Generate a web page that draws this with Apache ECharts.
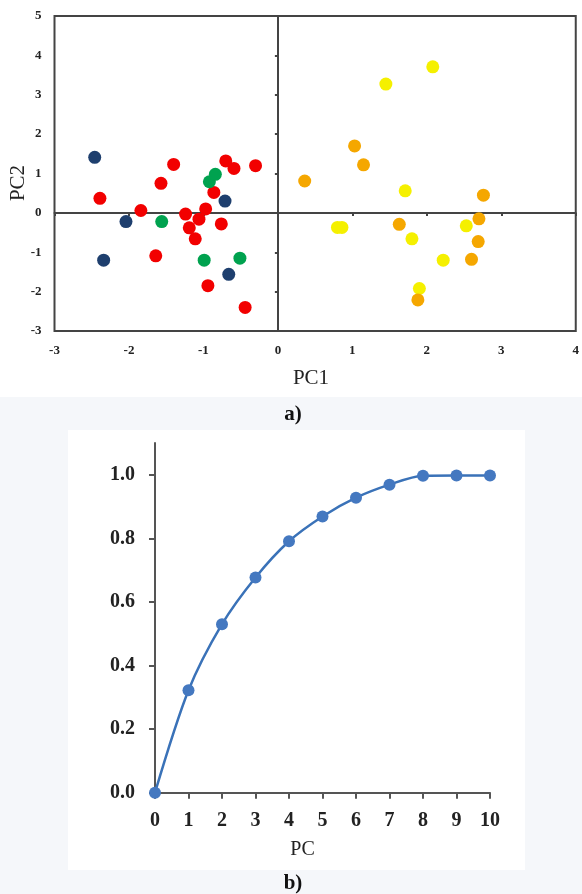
<!DOCTYPE html>
<html>
<head>
<meta charset="utf-8">
<script src="https://cdn.jsdelivr.net/npm/echarts@6/dist/echarts.min.js"></script>
<style>
html,body{margin:0;padding:0;background:#fff;}
#wrap{position:relative;width:582px;height:894px;overflow:hidden;}
#gray{position:absolute;left:0;top:397px;width:582px;height:497px;background:#F5F7FA;}
#panel{position:absolute;left:68px;top:430px;width:457px;height:440px;background:#fff;}
#chart{position:absolute;left:0;top:0;width:582px;height:894px;}
</style>
</head>
<body>
<div id="wrap"><div id="gray"></div><div id="panel"></div><div id="chart"></div></div>
<script>
// Score plot (PC1, PC2) groups
const blueGroup = [[-2.46,1.41],[-2.04,-0.22],[-2.34,-1.20],[-0.71,0.30],[-0.66,-1.56]];
const redGroup = [[-2.39,0.37],[-1.40,1.23],[-1.57,0.75],[-1.84,0.06],[-1.64,-1.09],[-1.24,-0.03],
  [-1.19,-0.38],[-1.11,-0.66],[-1.06,-0.16],[-0.97,0.10],[-0.86,0.52],[-0.76,-0.28],[-0.70,1.32],
  [-0.59,1.13],[-0.30,1.20],[-0.94,-1.85],[-0.44,-2.40]];
const greenGroup = [[-1.56,-0.22],[-0.92,0.79],[-0.84,0.98],[-0.99,-1.20],[-0.51,-1.15]];
const yellowGroup = [[2.08,3.71],[1.45,3.27],[1.71,0.56],[0.80,-0.37],[0.86,-0.37],[1.80,-0.66],
  [2.22,-1.20],[1.90,-1.92],[2.53,-0.33]];
const orangeGroup = [[1.03,1.70],[1.15,1.22],[0.36,0.81],[2.76,0.45],[1.63,-0.29],[1.88,-2.21],
  [2.70,-0.15],[2.69,-0.73],[2.60,-1.18]];
// Cumulative explained variance
const pcIndex = [0,1,2,3,4,5,6,7,8,9,10];
const cumVariance = [0,0.322,0.53,0.677,0.791,0.869,0.928,0.969,0.997,0.998,0.998];
const cumTickValues = [0,0.2,0.4,0.6,0.8,1.0];

const serif = 'Liberation Serif';
const chart = echarts.init(document.getElementById('chart'), null, {renderer:'canvas'});
const lineCol = '#444';
const topLabel = {fontFamily:serif, fontWeight:'bold', fontSize:13, color:'#222'};
const botLabel = {fontFamily:serif, fontWeight:'bold', fontSize:20, color:'#222'};
function dots(data, color){
  return {type:'scatter', xAxisIndex:0, yAxisIndex:0, data:data, symbolSize:13,
    itemStyle:{color:color, opacity:1}, z:5};
}
chart.setOption({
  animation:false,
  grid:[
    {left:54.5, top:16, right:6, bottom:563, show:true, borderColor:lineCol, borderWidth:2, backgroundColor:'transparent'},
    {left:155, top:443, right:92, bottom:101.3}
  ],
  xAxis:[
    {gridIndex:0, type:'value', min:-3, max:4, interval:1, position:'bottom',
      axisLine:{show:false, onZero:false}, axisTick:{show:false}, splitLine:{show:false},
      axisLabel:{...topLabel, margin:13}},
    {gridIndex:0, type:'value', min:-3, max:4, interval:1, position:'top',
      axisLine:{show:true, onZero:true, onZeroAxisIndex:0, lineStyle:{color:lineCol, width:2}},
      axisTick:{show:true, inside:true, length:3, lineStyle:{color:lineCol, width:2}},
      axisLabel:{show:false}, splitLine:{show:false}},
    {gridIndex:1, type:'value', min:0, max:10, interval:1, position:'bottom',
      name:'PC', nameLocation:'middle', nameGap:47,
      nameTextStyle:{fontFamily:serif, fontSize:20, color:'#222', padding:[0,40,0,0]},
      axisLine:{show:true, onZero:false, lineStyle:{color:'#555', width:2}},
      axisTick:{show:true, length:6, lineStyle:{color:'#555', width:2}},
      splitLine:{show:false},
      axisLabel:{...botLabel, margin:18}}
  ],
  yAxis:[
    {gridIndex:0, type:'value', min:-3, max:5, interval:1, position:'left',
      axisLine:{show:false, onZero:false}, axisTick:{show:false}, splitLine:{show:false},
      axisLabel:{...topLabel, margin:13}},
    {gridIndex:0, type:'value', min:-3, max:5, interval:1, position:'right',
      axisLine:{show:true, onZero:true, onZeroAxisIndex:0, lineStyle:{color:lineCol, width:2}},
      axisTick:{show:true, inside:true, length:3, lineStyle:{color:lineCol, width:2}},
      axisLabel:{show:false}, splitLine:{show:false}},
    {gridIndex:1, type:'value', min:0, max:1.1, position:'left',
      axisLine:{show:true, onZero:false, lineStyle:{color:'#555', width:2}},
      axisTick:{show:true, length:6, customValues:cumTickValues, lineStyle:{color:'#555', width:2}},
      splitLine:{show:false},
      axisLabel:{...botLabel, margin:20, customValues:cumTickValues,
        formatter:v => v.toFixed(1)}}
  ],
  graphic:[
    {type:'text', x:311, y:378, style:{text:'PC1', fontFamily:serif, fontSize:21, fill:'#222', textAlign:'center', textVerticalAlign:'middle'}},
    {type:'text', x:18, y:183, rotation:Math.PI/2, style:{text:'PC2', fontFamily:serif, fontSize:21, fill:'#222', textAlign:'center', textVerticalAlign:'middle'}},
    {type:'text', x:293, y:415, style:{text:'a)', fontFamily:serif, fontWeight:'bold', fontSize:21, fill:'#111', textAlign:'center', textVerticalAlign:'middle'}},
    {type:'text', x:293, y:884, style:{text:'b)', fontFamily:serif, fontWeight:'bold', fontSize:21, fill:'#111', textAlign:'center', textVerticalAlign:'middle'}}
  ],
  series:[
    dots(blueGroup,'#1E3F6E'),
    dots(redGroup,'#F20000'),
    dots(greenGroup,'#00A24F'),
    dots(yellowGroup,'#F5F000'),
    dots(orangeGroup,'#F5A700'),
    {type:'line', xAxisIndex:2, yAxisIndex:2, data:pcIndex.map((p,i)=>[p,cumVariance[i]]),
      smooth:0.3, symbol:'circle', symbolSize:12,
      lineStyle:{color:'#3A72B8', width:2.5}, itemStyle:{color:'#4478C0'}, z:5}
  ]
});
</script>
</body>
</html>
